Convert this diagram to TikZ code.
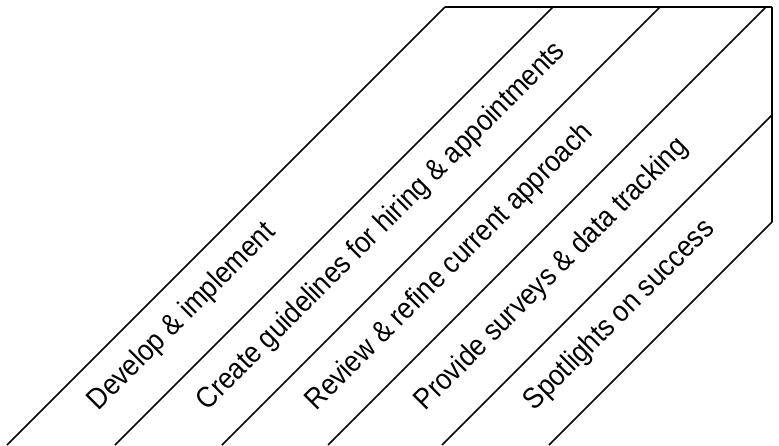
\documentclass[tikz,border=0pt]{standalone}
\usepackage{fontspec}
\setmainfont{Liberation Sans}[FakeStretch=0.9]
\tikzset{
	steplabel/.style={rotate=45, anchor=base west, inner sep=0pt,
		font=\fontsize{14.7}{17}\selectfont}
}
\begin{document}
\begin{tikzpicture}[x=0.5pt, y=0.5pt, line width=0.75pt]
	\useasboundingbox (0,0) rectangle (779,445);
	% slanted dividers
	\foreach \b in {7,115,222,328}{
		\draw (\b, 0) -- (\b + 438, 438);
	};
	\foreach \b in {442,549}{
		\draw (\b, 0) -- (772, 772 - \b);
	};
	% frame
	\draw (445, 438) -- (772, 438);
	\draw[line width=1pt] (772, 438.4) -- (772, 223);
	% labels
	\foreach \t [count=\i from 0] in {Develop \& implement, Create guidelines for hiring \& appointments, Review \& refine current approach, Provide surveys \& data tracking, Spotlights on success}{
		\node[steplabel] (lbl\i) at (98 + 109*\i, 33) {\t};
	};
\end{tikzpicture}
\end{document}
